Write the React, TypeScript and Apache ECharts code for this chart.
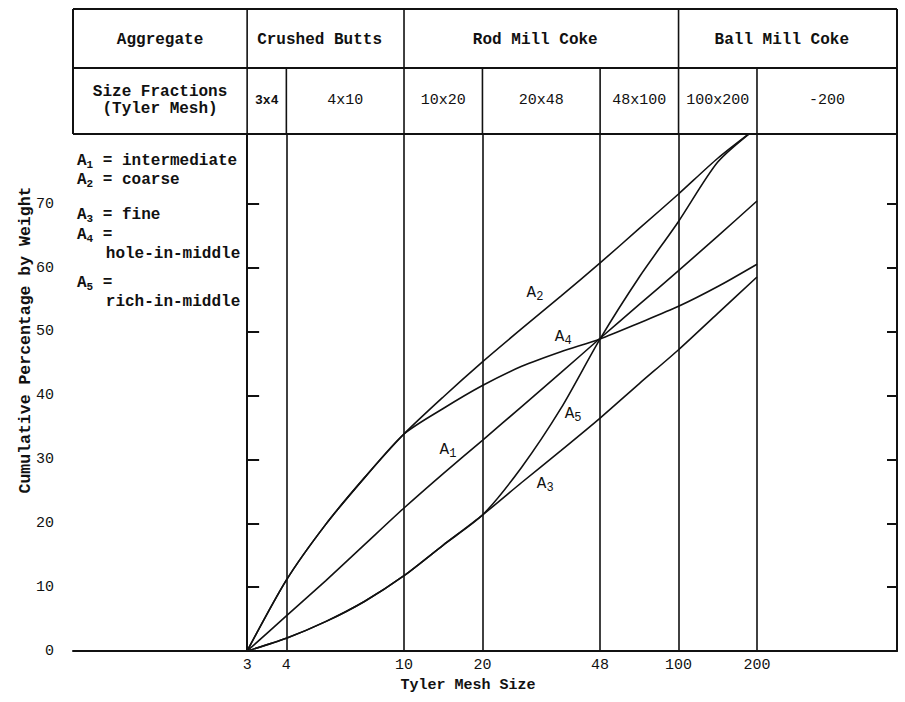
import React, { useEffect, useRef } from "react";
import * as echarts from "echarts";

// Tyler standard (root-2) sieve series; the chart's x axis is evenly spaced in sieve steps
const tylerSieves = [3, 4, 6, 8, 10, 14, 20, 28, 35, 48, 65, 100, 150, 200];
const labelledMesh = [3, 4, 10, 20, 48, 100, 200];
const yTicks = [0, 10, 20, 30, 40, 50, 60, 70];
const yRightTicks = [10, 20, 30, 40, 50, 60, 70];

// cumulative percentage by weight at each Tyler sieve above
const a1Intermediate = [0, 5.5, 11, 16.7, 22.4, 27.8, 33, 38.3, 43.6, 49, 54.3, 59.6, 65, 70.5];
const a2Coarse = [0, 11.1, 19.8, 27.2, 34, 39.8, 45.3, 50.5, 55.6, 60.8, 66.2, 71.6, 77.2, 82];
const a3Fine = [0, 2.0, 4.6, 7.8, 11.8, 16.6, 21.3, 26.4, 31.4, 36.5, 41.9, 47.2, 52.9, 58.6];
const a4HoleInMiddle = [0, 11.1, 19.8, 27.2, 34, 38.0, 41.6, 44.6, 46.9, 48.9, 51.4, 54, 57.1, 60.6];
const a5RichInMiddle = [0, 2.0, 4.6, 7.8, 11.8, 16.6, 21.3, 28.8, 38.0, 48.9, 58.6, 67.3, 76.6, 82];

const curveNames = ["1", "2", "3", "4", "5"];
const curveValues = [a1Intermediate, a2Coarse, a3Fine, a4HoleInMiddle, a5RichInMiddle];
// label anchor for each curve, in data space [sieve step, percent]
const curveLabelAt = [
  [5.12, 31.5],
  [7.34, 56.1],
  [7.6, 26.1],
  [8.06, 49.2],
  [8.31, 37.1],
];

const legendEntries = [
  { sub: "1", text: " = intermediate", cont: "" },
  { sub: "2", text: " = coarse", cont: "" },
  { sub: "3", text: " = fine", cont: "" },
  { sub: "4", text: " =", cont: "   hole-in-middle" },
  { sub: "5", text: " =", cont: "   rich-in-middle" },
];

const aggregateGroups = [
  { name: "Crushed Butts", from: 3, to: 10 },
  { name: "Rod Mill Coke", from: 10, to: 100 },
  { name: "Ball Mill Coke", from: 100, to: null },
];
const sizeFractions = ["3x4", "4x10", "10x20", "20x48", "48x100", "100x200", "-200"];

const FONT = '"Liberation Mono", "DejaVu Sans Mono", monospace';
const INK = "#111";

export default function App() {
  const ref = useRef<HTMLDivElement>(null);

  useEffect(() => {
    if (!ref.current) return;
    const chart = echarts.init(ref.current, null, { renderer: "svg" });
    const step = (m: number) => tylerSieves.indexOf(m);
    const labelledSteps = labelledMesh.map(step);
    const xMin = -4.44;
    const xMax = 16.57;
    const yMax = 81;
    const gridTop = 134;

    chart.setOption({
      animation: false,
      backgroundColor: "#fff",
      grid: { left: 73, right: 8, top: gridTop, bottom: 51 },
      xAxis: {
        type: "value",
        min: xMin,
        max: xMax,
        axisLine: { lineStyle: { color: INK, width: 2 } },
        axisTick: { show: false, customValues: labelledSteps },
        axisLabel: {
          customValues: labelledSteps,
          formatter: (v: number) => String(tylerSieves[Math.round(v)]),
          color: INK,
          fontFamily: FONT,
          fontSize: 15,
          margin: 7,
        },
        splitLine: { show: true, lineStyle: { color: INK, width: 1.6 } },
      },
      yAxis: [
        {
          type: "value",
          min: 0,
          max: yMax,
          axisLine: { show: true, lineStyle: { color: INK, width: 2 } },
          axisTick: { show: true, inside: true, length: 12, customValues: yTicks, lineStyle: { color: INK, width: 2 } },
          axisLabel: { customValues: yTicks, color: INK, fontFamily: FONT, fontSize: 15, margin: 19 },
          splitLine: { show: false },
        },
        {
          type: "value",
          position: "right",
          min: 0,
          max: yMax,
          axisLine: { show: true, lineStyle: { color: INK, width: 2 } },
          axisTick: { show: true, inside: true, length: 10, customValues: yRightTicks, lineStyle: { color: INK, width: 2 } },
          axisLabel: { show: false },
          splitLine: { show: false },
        },
      ],
      series: curveValues.map((vals, k) => ({
        type: "line",
        name: "A" + curveNames[k],
        data: tylerSieves.map((_, i) => [i, vals[i]]),
        smooth: 0.25,
        symbol: "none",
        silent: true,
        clip: true,
        lineStyle: { color: INK, width: 1.6 },
      })),
    });

    const px = (s: number) => chart.convertToPixel({ xAxisIndex: 0 }, s) as number;
    const py = (v: number) => chart.convertToPixel({ yAxisIndex: 0 }, v) as number;
    const left = px(xMin);
    const right = px(xMax);
    const top = 9;
    const row1 = 68;
    const g: any[] = [];
    const line = (x1: number, y1: number, x2: number, y2: number, w = 2) =>
      g.push({ type: "line", silent: true, shape: { x1, y1, x2, y2 }, style: { stroke: INK, lineWidth: w } });
    const text = (x: number, y: number, t: string, extra: any = {}) =>
      g.push({
        type: "text",
        silent: true,
        x,
        y,
        style: { text: t, fill: INK, font: `bold 16px ${FONT}`, align: "center", verticalAlign: "middle", ...extra },
      });

    // header frame
    line(left, top, right, top);
    line(left, row1, right, row1);
    line(left, gridTop, right, gridTop);
    line(left, top, left, gridTop);
    line(right, top, right, gridTop);
    aggregateGroups.forEach((gr) => line(px(step(gr.from)), top, px(step(gr.from)), row1, 1.6));
    labelledSteps.forEach((s) => line(px(s), row1, px(s), gridTop, 1.6));

    // header texts
    text((left + px(step(3))) / 2, 40, "Aggregate");
    aggregateGroups.forEach((gr) => {
      const x1 = px(step(gr.from));
      const x2 = gr.to === null ? right : px(step(gr.to));
      text((x1 + x2) / 2 - 6, 40, gr.name);
    });
    text((left + px(step(3))) / 2, 100, "Size Fractions\n(Tyler Mesh)", { lineHeight: 17 });
    sizeFractions.forEach((f, i) => {
      const x1 = px(labelledSteps[i]);
      const x2 = i + 1 < labelledSteps.length ? px(labelledSteps[i + 1]) : right;
      text((x1 + x2) / 2, 100, f, f === "3x4" ? { font: `bold 13px ${FONT}` } : { font: `15px ${FONT}` });
    });

    // legend block inside plot
    const subRich = {
      s: { fontSize: 11, lineHeight: 11, verticalAlign: "bottom", fontFamily: FONT, fontWeight: "bold", fill: INK },
      a: { fontSize: 16, lineHeight: 19, fontFamily: FONT, fontWeight: "bold", fill: INK },
    };
    const legendY = [161, 180, 215, 235, 283];
    legendEntries.forEach((e, i) => {
      const t = `{a|A}{s|${e.sub}}{a|${e.text}}` + (e.cont ? `\n{a|${e.cont}}` : "");
      g.push({
        type: "text",
        silent: true,
        x: left + 4,
        y: legendY[i] - 9.5,
        style: { text: t, rich: subRich, align: "left", verticalAlign: "top", fill: INK },
      });
    });

    // curve labels
    const labRich = {
      s: { fontSize: 12, lineHeight: 12, verticalAlign: "bottom", fontFamily: FONT, fill: INK },
      a: { fontSize: 16, lineHeight: 20, fontFamily: FONT, fill: INK },
    };
    curveLabelAt.forEach(([s, v], k) => {
      g.push({
        type: "text",
        silent: true,
        x: px(s),
        y: py(v),
        style: { text: `{a|A}{s|${curveNames[k]}}`, rich: labRich, align: "center", verticalAlign: "middle", fill: INK },
      });
    });

    // axis titles
    g.push({
      type: "text",
      silent: true,
      x: 25,
      y: 340,
      rotation: Math.PI / 2,
      style: { text: "Cumulative Percentage by Weight", fill: INK, font: `bold 16.5px ${FONT}`, align: "center", verticalAlign: "middle" },
    });
    g.push({
      type: "text",
      silent: true,
      x: 468,
      y: 685,
      style: { text: "Tyler Mesh Size", fill: INK, font: `bold 15px ${FONT}`, align: "center", verticalAlign: "middle" },
    });

    chart.setOption({ graphic: g });

    return () => chart.dispose();
  }, []);

  return (
    <div
      ref={ref}
      style={{ position: "absolute", left: 0, top: 0, width: 905, height: 702, background: "#fff" }}
    />
  );
}
